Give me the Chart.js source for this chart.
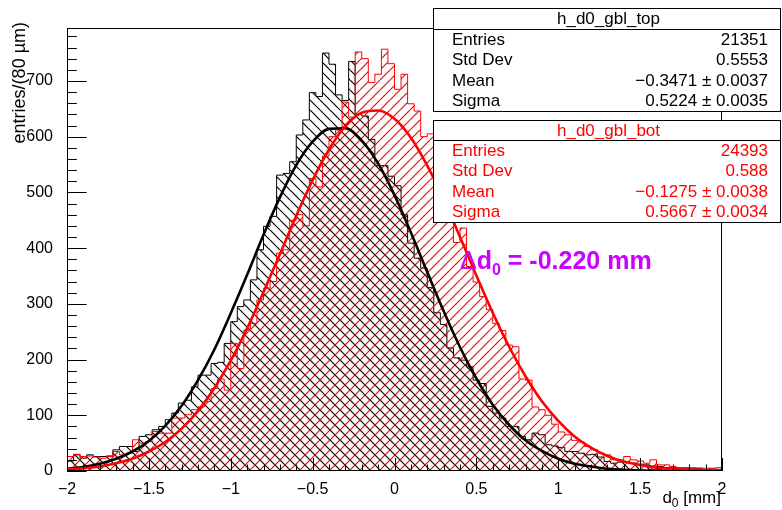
<!DOCTYPE html>
<html>
<head>
<meta charset="utf-8">
<script src="https://cdn.jsdelivr.net/npm/chart.js@4.4.0/dist/chart.umd.min.js"></script>
<style>
  html, body { margin: 0; padding: 0; background: #fff; }
  #c { display: block; }
</style>
</head>
<body>
<canvas id="c" width="782" height="510"></canvas>
<script>
// d0 residuals, GBL tracks: top vs bottom half, with gaussian fits

const X_MIN = -2, X_MAX = 2, N_BINS = 100;

// entries per bin (bin width 0.04 mm)
const topCounts = [
  18, 29, 23, 29, 26, 26, 27, 38, 44, 44,
  35, 62, 65, 74, 80, 92, 104, 122, 127, 151,
  172, 172, 193, 195, 229, 268, 295, 307, 343, 397,
  439, 457, 531, 534, 555, 603, 630, 679, 672, 750,
  730, 675, 665, 735, 640, 637, 595, 548, 548, 529,
  512, 460, 409, 382, 364, 329, 284, 263, 221, 203,
  199, 187, 163, 157, 116, 104, 95, 80, 80, 62,
  56, 68, 65, 47, 45, 42, 35, 35, 32, 29,
  30, 25, 17, 14, 16, 16, 14, 12, 11, 9,
  8, 6, 7, 5, 5, 4, 5, 3, 4, 3
];
const botCounts = [
  26, 30, 26, 27, 25, 23, 26, 35, 29, 32,
  56, 50, 53, 71, 68, 68, 95, 95, 101, 110,
  115, 125, 148, 165, 145, 229, 184, 253, 265, 307,
  328, 340, 391, 397, 450, 460, 440, 525, 510, 565,
  600, 612, 662, 635, 752, 740, 697, 712, 757, 731,
  685, 712, 659, 646, 600, 605, 560, 520, 480, 410,
  436, 367, 339, 313, 290, 265, 252, 226, 223, 165,
  163, 115, 110, 100, 84, 70, 65, 55, 52, 44,
  38, 32, 29, 20, 20, 26, 20, 18, 14, 20,
  11, 11, 8, 6, 6, 6, 5, 5, 5, 6
];

// fit curves sampled every 0.1 mm
const fitX = [
  -2.0, -1.9, -1.8, -1.7, -1.6, -1.5, -1.4, -1.3, -1.2, -1.1,
  -1.0, -0.9, -0.8, -0.7, -0.6, -0.5, -0.4, -0.3, -0.2, -0.1,
  0.0, 0.1, 0.2, 0.3, 0.4, 0.5, 0.6, 0.7, 0.8, 0.9,
  1.0, 1.1, 1.2, 1.3, 1.4, 1.5, 1.6, 1.7, 1.8, 1.9, 2.0
];
const topFit = [
  4, 7, 13, 22, 35, 54, 81, 117, 163, 218,
  283, 352, 424, 491, 549, 591, 614, 615, 593, 552,
  495, 428, 357, 287, 222, 166, 119, 83, 55, 36,
  22, 13, 8, 4, 2, 1, 0.6, 0.3, 0.1, 0.05, 0
];
const botFit = [
  3, 5, 8, 14, 22, 35, 52, 76, 108, 149,
  198, 256, 321, 389, 458, 522, 577, 619, 643, 647,
  632, 598, 548, 488, 420, 351, 284, 223, 170, 125,
  90, 62, 42, 27, 17, 11, 6, 4, 2, 1, 0.6
];

const xTicks = [-2, -1.5, -1, -0.5, 0, 0.5, 1, 1.5, 2];
const yTicks = [0, 100, 200, 300, 400, 500, 600, 700];
const Y_MAX = 795;
const X_MINOR = 0.1, Y_MINOR = 20;

const topStats = [['Entries', '21351'], ['Std Dev', '0.5553'],
  ['Mean', '\u22120.3471 \u00b1 0.0037'], ['Sigma', '0.5224 \u00b1 0.0035']];
const botStats = [['Entries', '24393'], ['Std Dev', '0.588'],
  ['Mean', '\u22120.1275 \u00b1 0.0038'], ['Sigma', '0.5667 \u00b1 0.0034']];

const FONT = "'Liberation Sans', Arial, Helvetica, sans-serif";
const RED = '#ff0000';
const LABEL_SIZE = 16;

const canvas = document.getElementById('c');
const ctx0 = canvas.getContext('2d');

function histPoints(counts) {
  const w = (X_MAX - X_MIN) / N_BINS;
  const pts = [{ x: X_MIN, y: 0 }];
  counts.forEach((v, i) => pts.push({ x: X_MIN + i * w, y: v }));
  pts.push({ x: X_MAX, y: 0 });
  return pts;
}

function fitPoints(vals) {
  return fitX.map((x, i) => ({ x, y: vals[i] }));
}

// ROOT style hatching: dir > 0 -> '/', dir < 0 -> '\'
function hatch(color, dir) {
  const s = 10;
  const c = document.createElement('canvas');
  c.width = s; c.height = s;
  const g = c.getContext('2d');
  g.strokeStyle = color;
  g.lineWidth = 1.2;
  g.beginPath();
  for (let k = -1; k <= 1; k++) {
    if (dir > 0) { g.moveTo(k * s, s); g.lineTo(k * s + s, 0); }
    else { g.moveTo(k * s, 0); g.lineTo(k * s + s, s); }
  }
  g.stroke();
  return ctx0.createPattern(c, 'repeat');
}

function fmt(v) {
  return v < 0 ? '\u2212' + (-v) : String(v);
}

// frame + inner ticks like ROOT, titles, stat boxes
const rootAxes = {
  id: 'rootAxes',
  afterDatasetsDraw(chart) {
    const { ctx, chartArea: a, scales: { x, y } } = chart;
    ctx.save();
    ctx.strokeStyle = '#000';
    ctx.lineWidth = 1;
    ctx.beginPath();
    const nx = Math.round((X_MAX - X_MIN) / X_MINOR);
    for (let i = 0; i <= nx; i++) {
      const px = Math.round(x.getPixelForValue(X_MIN + i * X_MINOR)) + 0.5;
      const len = i % 5 === 0 ? 13 : 6.5;
      ctx.moveTo(px, a.bottom);
      ctx.lineTo(px, a.bottom - len);
    }
    for (let v = 0; v <= Y_MAX; v += Y_MINOR) {
      const py = Math.round(y.getPixelForValue(v)) + 0.5;
      const len = v % 100 === 0 ? 19.6 : 9.8;
      ctx.moveTo(a.left, py);
      ctx.lineTo(a.left + len, py);
    }
    ctx.stroke();
    ctx.strokeRect(a.left + 0.5, a.top + 0.5, a.right - a.left - 1, a.bottom - a.top - 1);
    ctx.restore();
  },
  afterDraw(chart) {
    const { ctx, chartArea: a } = chart;
    ctx.save();
    ctx.fillStyle = '#000';
    // y title
    ctx.font = `18px ${FONT}`;
    ctx.translate(20, 22);
    ctx.rotate(-Math.PI / 2);
    ctx.textAlign = 'right';
    ctx.textBaseline = 'middle';
    ctx.fillText('entries/(80 \u00b5m)', 0, 0);
    ctx.restore();

    // x title: d_0 [mm]
    ctx.save();
    ctx.fillStyle = '#000';
    ctx.textBaseline = 'alphabetic';
    ctx.textAlign = 'left';
    ctx.font = `17px ${FONT}`;
    const tail = ' [mm]';
    const wTail = ctx.measureText(tail).width;
    const wD = ctx.measureText('d').width;
    ctx.font = `12px ${FONT}`;
    const wSub = ctx.measureText('0').width;
    const xr = a.right - 1;
    const base = 503;
    const xs = xr - wTail - wSub - wD;
    ctx.font = `17px ${FONT}`;
    ctx.fillText('d', xs, base);
    ctx.font = `12px ${FONT}`;
    ctx.fillText('0', xs + wD, base + 4);
    ctx.font = `17px ${FONT}`;
    ctx.fillText(tail, xs + wD + wSub, base);
    ctx.restore();

    drawStatBox(ctx, { x: 433, y: 8, w: 347, h: 103, head: 21 }, 'h_d0_gbl_top', topStats, '#000');
    drawStatBox(ctx, { x: 433, y: 120, w: 347, h: 102, head: 20 }, 'h_d0_gbl_bot', botStats, RED);

    // delta d0 label
    ctx.save();
    ctx.fillStyle = '#cc00ff';
    ctx.textBaseline = 'alphabetic';
    ctx.textAlign = 'left';
    let tx = 460;
    const ty = 269;
    ctx.font = `25px ${FONT}`;
    ctx.fillText('\u0394', tx, ty);
    tx += ctx.measureText('\u0394').width;
    ctx.font = `bold 25px ${FONT}`;
    ctx.fillText('d', tx, ty);
    tx += ctx.measureText('d').width;
    ctx.font = `bold 16px ${FONT}`;
    ctx.fillText('0', tx, ty + 6);
    tx += ctx.measureText('0').width;
    ctx.font = `bold 25px ${FONT}`;
    ctx.fillText(' = -0.220 mm', tx, ty);
    ctx.restore();
  }
};

function drawStatBox(ctx, b, title, rows, color) {
  ctx.save();
  ctx.fillStyle = '#fff';
  ctx.fillRect(b.x, b.y, b.w, b.h);
  ctx.strokeStyle = '#000';
  ctx.lineWidth = 1;
  ctx.strokeRect(b.x + 0.5, b.y + 0.5, b.w, b.h);
  ctx.beginPath();
  ctx.moveTo(b.x, b.y + b.head + 0.5);
  ctx.lineTo(b.x + b.w, b.y + b.head + 0.5);
  ctx.stroke();
  ctx.fillStyle = color;
  ctx.font = `17px ${FONT}`;
  ctx.textBaseline = 'middle';
  ctx.textAlign = 'center';
  ctx.fillText(title, b.x + b.w / 2 + 2, b.y + b.head / 2 + 1);
  const rh = (b.h - b.head) / rows.length;
  rows.forEach(([k, v], i) => {
    const cy = b.y + b.head + rh * (i + 0.5) + 1;
    ctx.textAlign = 'left';
    ctx.fillText(k, b.x + 19, cy);
    ctx.textAlign = 'right';
    ctx.fillText(v, b.x + 335, cy);
  });
  ctx.restore();
}

new Chart(canvas, {
  type: 'line',
  data: {
    datasets: [
      {
        label: 'fit bot', data: fitPoints(botFit), borderColor: RED, borderWidth: 2.6,
        pointRadius: 0, cubicInterpolationMode: 'monotone', fill: false, order: 0
      },
      {
        label: 'fit top', data: fitPoints(topFit), borderColor: '#000', borderWidth: 2.6,
        pointRadius: 0, cubicInterpolationMode: 'monotone', fill: false, order: 1
      },
      {
        label: 'h_d0_gbl_bot', data: histPoints(botCounts), stepped: 'before',
        borderColor: RED, borderWidth: 1, backgroundColor: hatch(RED, 1),
        fill: 'origin', pointRadius: 0, order: 2
      },
      {
        label: 'h_d0_gbl_top', data: histPoints(topCounts), stepped: 'before',
        borderColor: '#000', borderWidth: 1, backgroundColor: hatch('#000', -1),
        fill: 'origin', pointRadius: 0, order: 3
      }
    ]
  },
  options: {
    responsive: false,
    animation: false,
    devicePixelRatio: 1,
    layout: { padding: { top: 28, right: 60, left: 0, bottom: 0 } },
    plugins: { legend: { display: false }, tooltip: { enabled: false } },
    scales: {
      x: {
        type: 'linear', min: X_MIN, max: X_MAX,
        grid: { display: false }, border: { display: false },
        afterFit: s => { s.height = 39; },
        afterBuildTicks: s => { s.ticks = xTicks.map(v => ({ value: v })); },
        ticks: {
          autoSkip: false, maxRotation: 0, padding: 1, color: '#000',
          font: { family: FONT, size: LABEL_SIZE }, callback: v => fmt(v)
        }
      },
      y: {
        type: 'linear', min: 0, max: Y_MAX,
        grid: { display: false }, border: { display: false },
        afterFit: s => { s.width = 67; },
        afterBuildTicks: s => { s.ticks = yTicks.map(v => ({ value: v })); },
        ticks: {
          padding: 6, color: '#000',
          font: { family: FONT, size: LABEL_SIZE }, callback: v => String(v)
        }
      }
    }
  },
  plugins: [rootAxes]
});
</script>
</body>
</html>
